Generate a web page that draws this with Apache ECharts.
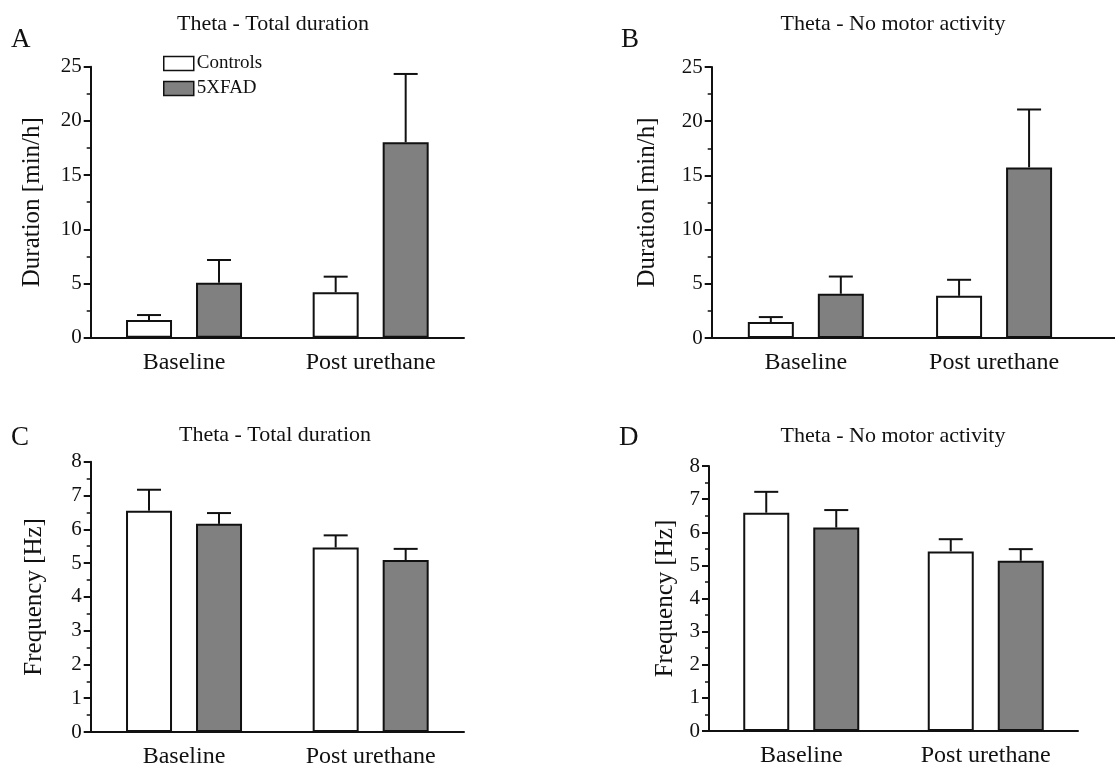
<!DOCTYPE html>
<html>
<head>
<meta charset="utf-8">
<script src="https://cdn.jsdelivr.net/npm/echarts@6/dist/echarts.min.js"></script>
<style>
  html, body { margin: 0; padding: 0; background: #fff; }
  #chart { width: 1115px; height: 769px; }
</style>
</head>
<body>
<div id="chart"></div>
<script>
// Theta episodes: Controls vs 5XFAD, baseline and after urethane
const categories = ['Baseline', 'Post urethane'];
const groupNames = ['Controls', '5XFAD'];

// A: duration, total
const durTotalControls = [1.63, 4.19];
const durTotalControlsSem = [0.46, 1.44];
const durTotal5xfad = [5.07, 18.03];
const durTotal5xfadSem = [2.10, 6.30];

// B: duration, no motor activity
const durNoMotorControls = [1.47, 3.89];
const durNoMotorControlsSem = [0.46, 1.48];
const durNoMotor5xfad = [4.08, 15.74];
const durNoMotor5xfadSem = [1.59, 5.34];

// C: frequency, total
const freqTotalControls = [6.55, 5.46];
const freqTotalControlsSem = [0.62, 0.36];
const freqTotal5xfad = [6.16, 5.09];
const freqTotal5xfadSem = [0.32, 0.33];

// D: frequency, no motor activity
const freqNoMotorControls = [6.59, 5.42];
const freqNoMotorControlsSem = [0.63, 0.37];
const freqNoMotor5xfad = [6.14, 5.14];
const freqNoMotor5xfadSem = [0.53, 0.35];

const panelTitles = ['Theta - Total duration', 'Theta - No motor activity', 'Theta - Total duration', 'Theta - No motor activity'];
const panelLetters = ['A', 'B', 'C', 'D'];
const yNames = ['Duration [min/h]', 'Duration [min/h]', 'Frequency [Hz]', 'Frequency [Hz]'];
const yMax = [25, 25, 8, 8];
const yInterval = [5, 5, 1, 1];

const FONT = 'Liberation Serif';
const INK = '#111';
const GREY = '#808080';
const BAR_W = 46;
const BAR_GAP = 24;

const panels = [
  { c: durTotalControls, cs: durTotalControlsSem, f: durTotal5xfad, fs: durTotal5xfadSem },
  { c: durNoMotorControls, cs: durNoMotorControlsSem, f: durNoMotor5xfad, fs: durNoMotor5xfadSem },
  { c: freqTotalControls, cs: freqTotalControlsSem, f: freqTotal5xfad, fs: freqTotal5xfadSem },
  { c: freqNoMotorControls, cs: freqNoMotorControlsSem, f: freqNoMotor5xfad, fs: freqNoMotor5xfadSem }
];

const grids = [
  { left: 90.7, top: 66.7, width: 373.3, height: 271 },
  { left: 711.7, top: 67, width: 376.5, height: 271 },
  { left: 90.7, top: 461.7, width: 373.3, height: 271 },
  { left: 709, top: 466, width: 369, height: 265 }
];
const nameGaps = [46, 52, 44, 31];
const titlePos = [
  { x: 273, y: 13, lx: 11, ly: 26 },
  { x: 893, y: 13, lx: 621, ly: 26 },
  { x: 275, y: 424, lx: 11, ly: 424 },
  { x: 893, y: 425, lx: 619, ly: 424 }
];

function errorRenderer(offset) {
  return function (params, api) {
    const cat = api.value(0);
    const mean = api.value(1);
    const err = api.value(2);
    const p0 = api.coord([cat, mean]);
    const p1 = api.coord([cat, mean + err]);
    const x = p0[0] + offset;
    const half = 12;
    const style = { stroke: INK, lineWidth: 2 };
    return {
      type: 'group',
      children: [
        { type: 'line', shape: { x1: x, y1: p0[1], x2: x, y2: p1[1] }, style: style },
        { type: 'line', shape: { x1: x - half, y1: p1[1], x2: x + half, y2: p1[1] }, style: style }
      ]
    };
  };
}

const title = [];
const xAxis = [];
const yAxis = [];
const series = [];

panels.forEach(function (p, i) {
  title.push({
    text: panelTitles[i], left: titlePos[i].x, top: titlePos[i].y, textAlign: 'center', padding: 0,
    textStyle: { fontFamily: FONT, fontSize: 22, fontWeight: 'normal', color: INK }
  });
  title.push({
    text: panelLetters[i], left: titlePos[i].lx, top: titlePos[i].ly, padding: 0,
    textStyle: { fontFamily: FONT, fontSize: 27, fontWeight: 'normal', color: INK }
  });
  xAxis.push({
    type: 'category', gridIndex: i, data: categories,
    axisLine: { lineStyle: { color: INK, width: 2 } },
    axisTick: { show: false },
    axisLabel: { fontFamily: FONT, fontSize: 24, color: INK, margin: 13 }
  });
  yAxis.push({
    type: 'value', gridIndex: i, min: 0, max: yMax[i], interval: yInterval[i],
    name: yNames[i], nameLocation: 'middle', nameRotate: 90, nameGap: nameGaps[i],
    nameTextStyle: { fontFamily: FONT, fontSize: 25, color: INK },
    axisLine: { show: true, lineStyle: { color: INK, width: 2 } },
    axisTick: { show: true, length: 7, lineStyle: { color: INK, width: 2 } },
    minorTick: { show: true, splitNumber: 2, length: 4, lineStyle: { color: INK, width: 1.5 } },
    splitLine: { show: false },
    axisLabel: { fontFamily: FONT, fontSize: 21, color: INK, margin: 9 }
  });
  const offset = (BAR_W + BAR_GAP) / 2;
  series.push({
    name: groupNames[0], type: 'bar', xAxisIndex: i, yAxisIndex: i,
    data: p.c, barWidth: BAR_W,
    itemStyle: { color: '#fff', borderColor: INK, borderWidth: 2 }
  });
  series.push({
    name: groupNames[1], type: 'bar', xAxisIndex: i, yAxisIndex: i,
    data: p.f, barWidth: BAR_W, barGap: (BAR_GAP / BAR_W * 100) + '%',
    itemStyle: { color: GREY, borderColor: INK, borderWidth: 2 }
  });
  series.push({
    type: 'custom', xAxisIndex: i, yAxisIndex: i, z: 3, silent: true,
    renderItem: errorRenderer(-offset), encode: { x: 0, y: 1 },
    data: p.c.map(function (v, k) { return [k, v, p.cs[k]]; })
  });
  series.push({
    type: 'custom', xAxisIndex: i, yAxisIndex: i, z: 3, silent: true,
    renderItem: errorRenderer(offset), encode: { x: 0, y: 1 },
    data: p.f.map(function (v, k) { return [k, v, p.fs[k]]; })
  });
});

const chart = echarts.init(document.getElementById('chart'), null, { renderer: 'canvas' });
chart.setOption({
  backgroundColor: '#fff',
  animation: false,
  title: title,
  legend: {
    data: groupNames, orient: 'vertical', left: 163, top: 54, padding: 0,
    itemWidth: 30, itemHeight: 14, itemGap: 6,
    icon: 'rect',
    itemStyle: { borderColor: INK, borderWidth: 1.5 },
    textStyle: { fontFamily: FONT, fontSize: 19, color: INK, padding: [0, 0, 0, -2] }
  },
  grid: grids.map(function (g) { return Object.assign({ containLabel: false }, g); }),
  xAxis: xAxis,
  yAxis: yAxis,
  series: series
});

// panel B baseline runs on to the right edge of the figure
const bZeroY = chart.convertToPixel({ yAxisIndex: 1 }, 0);
const bEndX = grids[1].left + grids[1].width;
chart.setOption({
  graphic: [
    { type: 'line', z: 10, shape: { x1: bEndX - 2, y1: bZeroY, x2: 1115, y2: bZeroY }, style: { stroke: INK, lineWidth: 2 } }
  ]
});
</script>
</body>
</html>
